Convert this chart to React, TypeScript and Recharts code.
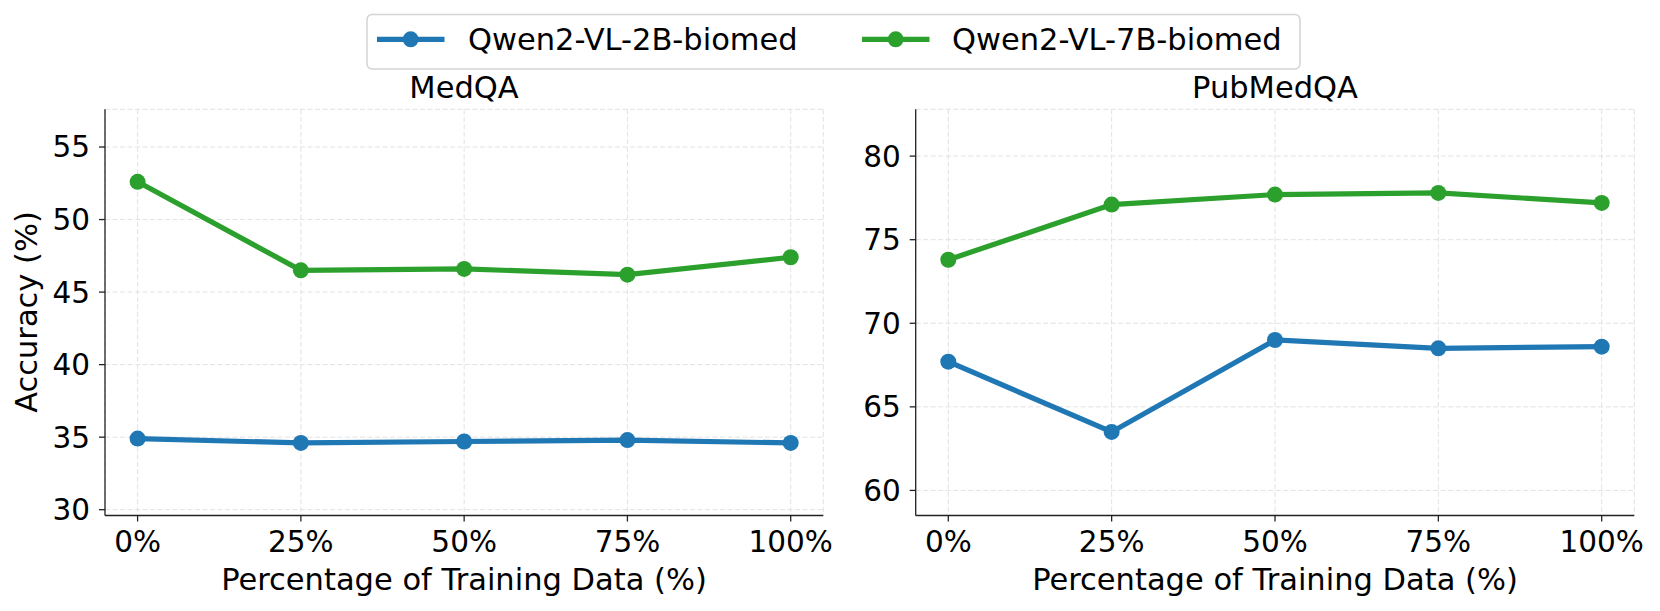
import { LineChart, Line, CartesianGrid, XAxis, YAxis } from "recharts";

const categories = ["0%", "25%", "50%", "75%", "100%"];
const seriesNames = ["Qwen2-VL-2B-biomed", "Qwen2-VL-7B-biomed"];
const seriesColors = ["#1f77b4", "#2ca02c"];

const medqa2B = [34.9, 34.6, 34.7, 34.8, 34.6];
const medqa7B = [52.6, 46.5, 46.6, 46.2, 47.4];
const pubmed2B = [67.7, 63.5, 69.0, 68.5, 68.6];
const pubmed7B = [73.8, 77.1, 77.7, 77.8, 77.2];

const medqaTicks = [30, 35, 40, 45, 50, 55];
const pubmedTicks = [60, 65, 70, 75, 80];

const FONT = "DejaVu Sans";

const buildRows = (a: number[], b: number[]) =>
  categories.map((c, i) => ({ pct: c, s0: a[i], s1: b[i] }));

const tickStyle = { fontSize: 29.5, fill: "#000", fontFamily: FONT };

function Panel({
  data,
  domain,
  ticks,
  left,
  marginLeft,
  marginRight,
}: {
  data: { pct: string; s0: number; s1: number }[];
  domain: [number, number];
  ticks: number[];
  left: number;
  marginLeft: number;
  marginRight: number;
}) {
  return (
    <div style={{ position: "absolute", left, top: 0 }}>
      <LineChart
        width={860}
        height={611}
        data={data}
        margin={{ top: 109.3, right: marginRight, bottom: 55.5, left: marginLeft }}
      >
        <CartesianGrid stroke="#e2e2e2" strokeDasharray="5 2.5" strokeWidth={1} />
        <XAxis
          dataKey="pct"
          padding={{ left: 32.6, right: 32.6 }}
          height={40}
          tick={tickStyle}
          tickSize={6}
          tickMargin={10}
          stroke="#222"
          strokeWidth={1.3}
          tickLine={{ stroke: "#222", strokeWidth: 1.3 }}
        />
        <YAxis
          type="number"
          domain={domain}
          ticks={ticks}
          width={60}
          tick={tickStyle}
          tickSize={6}
          tickMargin={9}
          stroke="#222"
          strokeWidth={1.3}
          tickLine={{ stroke: "#222", strokeWidth: 1.3 }}
          allowDataOverflow
        />
        {["s0", "s1"].map((k, i) => (
          <Line
            key={k}
            type="linear"
            dataKey={k}
            name={seriesNames[i]}
            stroke={seriesColors[i]}
            strokeWidth={5.2}
            dot={{ r: 8, fill: seriesColors[i], stroke: seriesColors[i], strokeWidth: 0 }}
            activeDot={false}
            isAnimationActive={false}
          />
        ))}
      </LineChart>
    </div>
  );
}

export default function App() {
  const legendItems = [
    { lineX: 377, textX: 468 },
    { lineX: 862, textX: 952 },
  ];
  return (
    <div
      style={{
        position: "absolute",
        left: 0,
        top: 0,
        width: 1660,
        height: 611,
        background: "#fff",
        fontFamily: FONT,
      }}
    >
      <Panel
        data={buildRows(medqa2B, medqa7B)}
        domain={[29.6, 57.6]}
        ticks={medqaTicks}
        left={0}
        marginLeft={45}
        marginRight={36.7}
      />
      <Panel
        data={buildRows(pubmed2B, pubmed7B)}
        domain={[58.5, 82.8]}
        ticks={pubmedTicks}
        left={800}
        marginLeft={55.7}
        marginRight={25.7}
      />
      <svg
        width={1660}
        height={611}
        style={{ position: "absolute", left: 0, top: 0, pointerEvents: "none" }}
        fontFamily={FONT}
      >
        <text x={464} y={98.3} fontSize={30.5} textAnchor="middle" fill="#000">
          MedQA
        </text>
        <text x={1275} y={98.3} fontSize={30.5} textAnchor="middle" fill="#000">
          PubMedQA
        </text>
        <text x={464} y={590} fontSize={30.5} textAnchor="middle" fill="#000">
          Percentage of Training Data (%)
        </text>
        <text x={1275} y={590} fontSize={30.5} textAnchor="middle" fill="#000">
          Percentage of Training Data (%)
        </text>
        <text
          transform="translate(37,312) rotate(-90)"
          fontSize={30.5}
          textAnchor="middle"
          fill="#000"
        >
          Accuracy (%)
        </text>
        <rect
          x={367}
          y={14.5}
          width={933}
          height={54.5}
          rx={5}
          fill="#fff"
          stroke="#d4d4d4"
          strokeWidth={1.5}
        />
        {seriesNames.map((name, i) => (
          <g key={name}>
            <line
              x1={legendItems[i].lineX}
              x2={legendItems[i].lineX + 67.5}
              y1={39.3}
              y2={39.3}
              stroke={seriesColors[i]}
              strokeWidth={5.2}
            />
            <circle
              cx={legendItems[i].lineX + 33.7}
              cy={39.3}
              r={8}
              fill={seriesColors[i]}
            />
            <text x={legendItems[i].textX} y={49.5} fontSize={30.5} fill="#000">
              {name}
            </text>
          </g>
        ))}
      </svg>
    </div>
  );
}
